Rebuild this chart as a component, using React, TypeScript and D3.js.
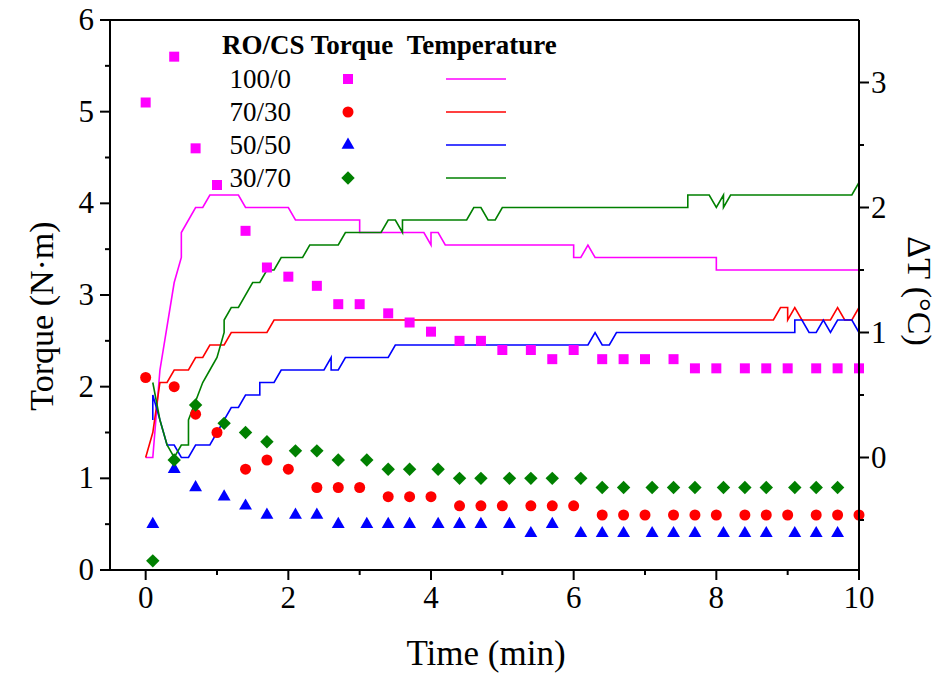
import * as d3 from "d3"

const W = 939
const H = 679
const margin = { top: 20, right: 80, bottom: 109, left: 110 }
const FONT = "'Liberation Serif', 'Times New Roman', serif"

// torque samples (min, N·m)
const timesA = [0, 0.4, 0.7, 1.0, 1.4, 1.7, 2.0, 2.4, 2.7, 3.0, 3.4, 3.7, 4.0, 4.4, 4.7, 5.0, 5.4, 5.7, 6.0, 6.4, 6.7, 7.0, 7.4, 7.7, 8.0, 8.4, 8.7, 9.0, 9.4, 9.7, 10.0]
const torque100 = [5.1, 5.6, 4.6, 4.2, 3.7, 3.3, 3.2, 3.1, 2.9, 2.9, 2.8, 2.7, 2.6, 2.5, 2.5, 2.4, 2.4, 2.3, 2.4, 2.3, 2.3, 2.3, 2.3, 2.2, 2.2, 2.2, 2.2, 2.2, 2.2, 2.2, 2.2]
const torque70 = [2.1, 2.0, 1.7, 1.5, 1.1, 1.2, 1.1, 0.9, 0.9, 0.9, 0.8, 0.8, 0.8, 0.7, 0.7, 0.7, 0.7, 0.7, 0.7, 0.6, 0.6, 0.6, 0.6, 0.6, 0.6, 0.6, 0.6, 0.6, 0.6, 0.6, 0.6]
const timesB = [0.1, 0.4, 0.7, 1.1, 1.4, 1.7, 2.1, 2.4, 2.7, 3.1, 3.4, 3.7, 4.1, 4.4, 4.7, 5.1, 5.4, 5.7, 6.1, 6.4, 6.7, 7.1, 7.4, 7.7, 8.1, 8.4, 8.7, 9.1, 9.4, 9.7]
const torque50 = [0.5, 1.1, 0.9, 0.8, 0.7, 0.6, 0.6, 0.6, 0.5, 0.5, 0.5, 0.5, 0.5, 0.5, 0.5, 0.5, 0.4, 0.5, 0.4, 0.4, 0.4, 0.4, 0.4, 0.4, 0.4, 0.4, 0.4, 0.4, 0.4, 0.4]
const torque30 = [0.1, 1.2, 1.8, 1.6, 1.5, 1.4, 1.3, 1.3, 1.2, 1.2, 1.1, 1.1, 1.1, 1.0, 1.0, 1.0, 1.0, 1.0, 1.0, 0.9, 0.9, 0.9, 0.9, 0.9, 0.9, 0.9, 0.9, 0.9, 0.9, 0.9]

// temperature traces (vertices, min / °C)
const tempT100 = [0, 0.1, 0.2, 0.4, 0.5, 0.5, 0.7, 0.8, 0.9, 1.3, 1.4, 2.0, 2.1, 3.0, 3.0, 3.9, 4.0, 4.0, 4.1, 4.2, 6.0, 6.0, 6.1, 6.2, 6.3, 8.0, 8.0, 10]
const temp100 = [0, 0, 0.7, 1.4, 1.6, 1.8, 2.0, 2.0, 2.1, 2.1, 2.0, 2.0, 1.9, 1.9, 1.8, 1.8, 1.7, 1.8, 1.8, 1.7, 1.7, 1.6, 1.6, 1.7, 1.6, 1.6, 1.5, 1.5]
const tempT70 = [0, 0.1, 0.2, 0.3, 0.4, 0.6, 0.7, 0.8, 0.9, 1.1, 1.2, 1.7, 1.8, 8.8, 8.9, 9.0, 9.0, 9.1, 9.2, 9.6, 9.7, 9.8, 9.9, 10]
const temp70 = [0, 0.2, 0.6, 0.6, 0.7, 0.7, 0.8, 0.8, 0.9, 0.9, 1.0, 1.0, 1.1, 1.1, 1.2, 1.2, 1.1, 1.2, 1.1, 1.1, 1.2, 1.1, 1.1, 1.2]
const tempT50 = [0.1, 0.1, 0.3, 0.4, 0.5, 0.6, 0.7, 0.9, 1.2, 1.3, 1.4, 1.6, 1.6, 1.8, 1.9, 2.5, 2.6, 2.6, 2.7, 2.8, 3.4, 3.5, 6.2, 6.3, 6.4, 6.5, 6.6, 9.1, 9.1, 9.2, 9.3, 9.4, 9.5, 9.6, 9.7, 9.9, 10]
const temp50 = [0.3, 0.5, 0.1, 0.1, 0, 0, 0.1, 0.1, 0.4, 0.4, 0.5, 0.5, 0.6, 0.6, 0.7, 0.7, 0.8, 0.7, 0.7, 0.8, 0.8, 0.9, 0.9, 1.0, 0.9, 0.9, 1.0, 1.0, 1.1, 1.1, 1.0, 1.0, 1.1, 1.0, 1.1, 1.1, 1.0]
const tempT30 = [0.1, 0.2, 0.3, 0.4, 0.5, 0.6, 0.6, 0.7, 0.8, 0.9, 1.0, 1.1, 1.1, 1.2, 1.3, 1.5, 1.6, 1.7, 1.8, 1.9, 2.2, 2.3, 2.7, 2.8, 3.3, 3.4, 3.5, 3.6, 3.6, 4.5, 4.6, 4.7, 4.8, 4.9, 5.0, 7.6, 7.6, 7.9, 8.0, 8.1, 8.1, 8.2, 9.9, 10]
const temp30 = [0.6, 0.3, 0.1, 0, 0.1, 0.1, 0.3, 0.45, 0.6, 0.7, 0.8, 1.0, 1.1, 1.2, 1.2, 1.4, 1.4, 1.5, 1.5, 1.6, 1.6, 1.7, 1.7, 1.8, 1.8, 1.9, 1.9, 1.8, 1.9, 1.9, 2.0, 2.0, 1.9, 1.9, 2.0, 2.0, 2.1, 2.1, 2.0, 2.1, 2.0, 2.1, 2.1, 2.2]

const labels = ["100/0", "70/30", "50/50", "30/70"]
const colors = ["#FF00FF", "#FF0000", "#0000FF", "#008000"]

const series = [
  { label: labels[0], color: colors[0], shape: "square", t: timesA, torque: torque100, tt: tempT100, temp: temp100 },
  { label: labels[1], color: colors[1], shape: "circle", t: timesA, torque: torque70, tt: tempT70, temp: temp70 },
  { label: labels[2], color: colors[2], shape: "triangle", t: timesB, torque: torque50, tt: tempT50, temp: temp50 },
  { label: labels[3], color: colors[3], shape: "diamond", t: timesB, torque: torque30, tt: tempT30, temp: temp30 },
]

const symbolPath = (shape) => {
  if (shape === "square") return d3.symbol(d3.symbolSquare, 100)()
  if (shape === "circle") return d3.symbol(d3.symbolCircle, 95)()
  if (shape === "triangle") return d3.symbol(d3.symbolTriangle, 72)()
  return d3.symbol(d3.symbolSquare, 90)()
}

const Marker = ({ shape, color, x, y }) => (
  <path
    d={symbolPath(shape)}
    fill={color}
    transform={`translate(${x},${y})${shape === "diamond" ? " rotate(45)" : ""}`}
  />
)

export default function App() {
  const x0 = margin.left
  const x1 = W - margin.right
  const y0 = H - margin.bottom
  const y1 = margin.top

  const x = d3.scaleLinear().domain([-0.5, 10]).range([x0, x1])
  const yL = d3.scaleLinear().domain([0, 6]).range([y0, y1])
  const yR = d3.scaleLinear().domain([-0.9, 3.5]).range([y0, y1])

  const line = (tt, vv) =>
    d3.line<number>()
      .x((d, i) => x(tt[i]))
      .y((d) => yR(d))(vv)

  const xMajor = d3.range(0, 11, 2)
  const xMinor = d3.range(1, 10, 2)
  const yLMajor = d3.range(0, 7, 1)
  const yLMinor = d3.range(0.5, 6, 1)
  const yRMajor = [0, 1, 2, 3]
  const yRMinor = [-0.5, 0.5, 1.5, 2.5]

  const legX = 222
  const legRowY = [79, 112, 145, 178]

  return (
    <svg width={W} height={H} style={{ position: "absolute", left: 0, top: 0, background: "#fff" }} fontFamily={FONT}>
      <rect width={W} height={H} fill="#fff" />

      {/* temperature lines */}
      {series.map((s) => (
        <path key={"l" + s.label} d={line(s.tt, s.temp)} fill="none" stroke={s.color} strokeWidth={1.6} strokeLinejoin="miter" />
      ))}

      {/* torque markers */}
      {series.map((s) =>
        s.torque.map((v, i) => (
          <Marker key={s.label + i} shape={s.shape} color={s.color} x={x(s.t[i])} y={yL(v)} />
        ))
      )}

      {/* frame */}
      <g stroke="#000" strokeWidth={2} fill="none">
        <line x1={x0} x2={x1} y1={y1} y2={y1} />
        <line x1={x0} x2={x1} y1={y0} y2={y0} />
        <line x1={x0} x2={x0} y1={y1} y2={y0} />
        <line x1={x1} x2={x1} y1={y1} y2={y0} />
        {xMajor.map((t) => <line key={"xm" + t} x1={x(t)} x2={x(t)} y1={y0} y2={y0 + 10} />)}
        {xMinor.map((t) => <line key={"xn" + t} x1={x(t)} x2={x(t)} y1={y0} y2={y0 + 5} />)}
        {yLMajor.map((t) => <line key={"ym" + t} x1={x0 - 10} x2={x0} y1={yL(t)} y2={yL(t)} />)}
        {yLMinor.map((t) => <line key={"yn" + t} x1={x0 - 5} x2={x0} y1={yL(t)} y2={yL(t)} />)}
        {yRMajor.map((t) => <line key={"rm" + t} x1={x1} x2={x1 + 10} y1={yR(t)} y2={yR(t)} />)}
        {yRMinor.map((t) => <line key={"rn" + t} x1={x1} x2={x1 + 5} y1={yR(t)} y2={yR(t)} />)}
      </g>

      {/* tick labels */}
      <g fontSize={31} fill="#000">
        {xMajor.map((t) => (
          <text key={"xl" + t} x={x(t)} y={y0 + 38} textAnchor="middle">{t}</text>
        ))}
        {yLMajor.map((t) => (
          <text key={"yl" + t} x={x0 - 16} y={yL(t) + 10} textAnchor="end">{t}</text>
        ))}
        {yRMajor.map((t) => (
          <text key={"rl" + t} x={x1 + 12} y={yR(t) + 10} textAnchor="start">{t}</text>
        ))}
      </g>

      {/* axis titles */}
      <text x={486} y={665} fontSize={35} textAnchor="middle">Time (min)</text>
      <text transform={`translate(53,316) rotate(-90)`} fontSize={34} textAnchor="middle">Torque (N·m)</text>
      <text transform={`translate(908,291) rotate(90)`} fontSize={34} textAnchor="middle">ΔT (°C)</text>

      {/* legend */}
      <text x={legX} y={54} fontSize={27} fontWeight="bold">RO/CS Torque{"\u00a0\u00a0"}Temperature</text>
      {series.map((s, i) => (
        <g key={"lg" + s.label}>
          <text x={291} y={legRowY[i] + 9} fontSize={27} textAnchor="end">{s.label}</text>
          <Marker shape={s.shape} color={s.color} x={348} y={legRowY[i]} />
          <line x1={446} x2={506} y1={legRowY[i]} y2={legRowY[i]} stroke={s.color} strokeWidth={1.6} />
        </g>
      ))}
    </svg>
  )
}
